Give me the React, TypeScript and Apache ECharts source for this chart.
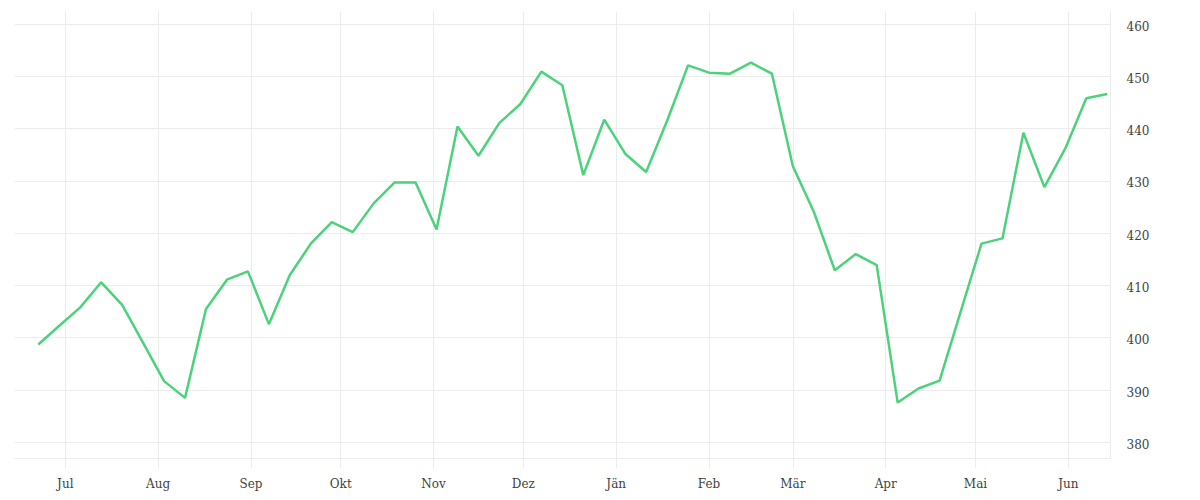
import React, { useEffect, useRef } from "react";
import * as echarts from "echarts";

const DATES: string[] = [
  "2022-06-22", "2022-06-29", "2022-07-06", "2022-07-13", "2022-07-20", "2022-07-27",
  "2022-08-03", "2022-08-10", "2022-08-17", "2022-08-24", "2022-08-31",
  "2022-09-07", "2022-09-14", "2022-09-21", "2022-09-28",
  "2022-10-05", "2022-10-12", "2022-10-19", "2022-10-26",
  "2022-11-02", "2022-11-09", "2022-11-16", "2022-11-23", "2022-11-30",
  "2022-12-07", "2022-12-14", "2022-12-21", "2022-12-28",
  "2023-01-04", "2023-01-11", "2023-01-18", "2023-01-25",
  "2023-02-01", "2023-02-08", "2023-02-15", "2023-02-22",
  "2023-03-01", "2023-03-08", "2023-03-15", "2023-03-22", "2023-03-29",
  "2023-04-05", "2023-04-12", "2023-04-19", "2023-04-26",
  "2023-05-03", "2023-05-10", "2023-05-17", "2023-05-24", "2023-05-31",
  "2023-06-07", "2023-06-14",
];

const VALUES: number[] = [
  398.7, 402.3, 405.8, 410.6, 406.3, 399.0,
  391.7, 388.5, 405.5, 411.1, 412.7,
  402.6, 412.0, 418.0, 422.1,
  420.2, 425.7, 429.7, 429.7,
  420.7, 440.4, 434.8, 441.1, 444.7,
  450.9, 448.3, 431.1, 441.7,
  435.2, 431.7, 441.5, 452.1,
  450.7, 450.5, 452.6, 450.5,
  432.8, 424.1, 412.9, 416.0, 413.9,
  387.6, 390.3, 391.8, 404.9,
  418.0, 419.0, 439.2, 428.8, 436.2,
  445.8, 446.6,
];

const MONTH_LABELS: string[] = [
  "Jän", "Feb", "Mär", "Apr", "Mai", "Jun",
  "Jul", "Aug", "Sep", "Okt", "Nov", "Dez",
];

const X_MIN = "2022-06-14 05:00:00";
const X_MAX = "2023-06-15 02:00:00";
const Y_MIN = 377.0;
const Y_MAX = 462.3;

const GRID_COLOR = "#ececec";
const LINE_COLOR = "#4cd27b";
const TEXT_COLOR = "#3f3f3f";
const FONT = "'DejaVu Serif', serif";
const DAY = 86400000;

export default function App() {
  const ref = useRef<HTMLDivElement>(null);

  useEffect(() => {
    if (!ref.current) return;
    const chart = echarts.init(ref.current, undefined, { renderer: "svg" });
    chart.setOption({
      animation: false,
      backgroundColor: "#ffffff",
      grid: { left: 15, right: 89.5, top: 12, bottom: 42, containLabel: false },
      xAxis: {
        type: "time",
        min: X_MIN,
        max: X_MAX,
        minInterval: 28 * DAY,
        maxInterval: 31 * DAY,
        axisLine: { show: true, lineStyle: { color: GRID_COLOR, width: 1 } },
        axisTick: { show: true, length: 10, lineStyle: { color: GRID_COLOR } },
        splitLine: {
          show: true,
          showMinLine: false,
          showMaxLine: false,
          lineStyle: { color: GRID_COLOR, width: 1 },
        },
        axisLabel: {
          show: true,
          showMinLabel: false,
          showMaxLabel: false,
          margin: 20,
          color: TEXT_COLOR,
          fontFamily: FONT,
          fontSize: 12,
          fontWeight: "normal",
          formatter: (value: number) => MONTH_LABELS[new Date(value).getMonth()],
        },
      },
      yAxis: {
        type: "value",
        position: "right",
        min: Y_MIN,
        max: Y_MAX,
        splitNumber: 8,
        axisLine: { show: true, lineStyle: { color: GRID_COLOR, width: 1 } },
        axisTick: { show: false },
        splitLine: {
          show: true,
          showMinLine: false,
          showMaxLine: false,
          lineStyle: { color: GRID_COLOR, width: 1 },
        },
        axisLabel: {
          showMinLabel: false,
          showMaxLabel: false,
          margin: 16,
          color: TEXT_COLOR,
          fontFamily: FONT,
          fontSize: 12,
          formatter: (value: number) => "{v|" + value + "}",
          rich: {
            v: {
              color: TEXT_COLOR,
              fontFamily: FONT,
              fontSize: 12,
              padding: [5, 0, 0, 0],
            },
          },
        },
      },
      series: [
        {
          type: "line",
          data: DATES.map((d, i) => [d, VALUES[i]]),
          showSymbol: false,
          symbol: "none",
          lineStyle: { color: LINE_COLOR, width: 2.5 },
          itemStyle: { color: LINE_COLOR },
        },
      ],
    });
    return () => chart.dispose();
  }, []);

  return (
    <div
      ref={ref}
      style={{ position: "absolute", left: 0, top: 0, width: 1200, height: 500 }}
    />
  );
}
